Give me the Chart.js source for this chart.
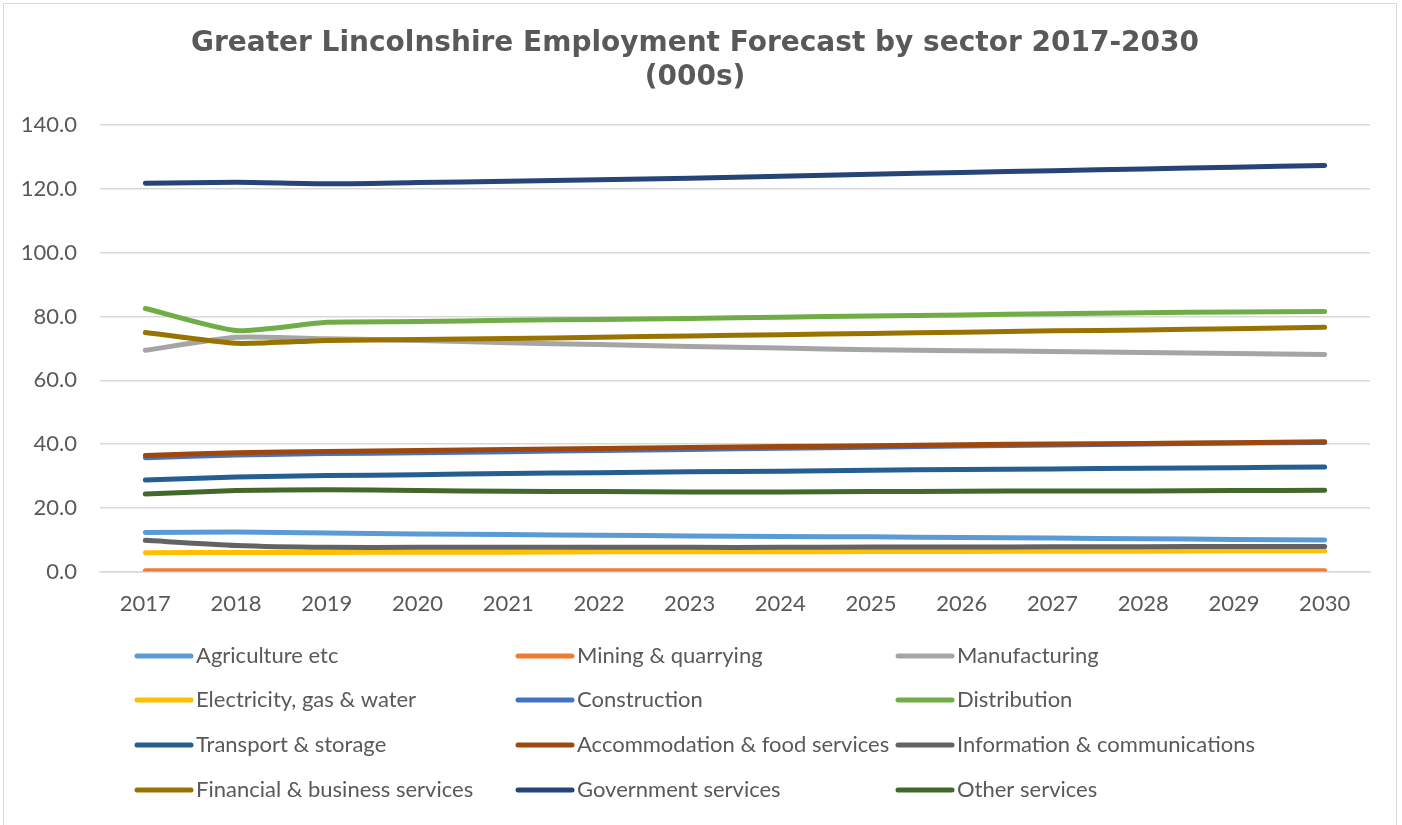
<!DOCTYPE html>
<html>
<head>
<meta charset="utf-8">
<script src="https://cdn.jsdelivr.net/npm/chart.js@4"></script>
<style>
  body { margin: 0; background: #fff; }
  #wrap { position: absolute; left: 0; top: 0; width: 1402px; height: 825px; }
  #frame { position: absolute; left: 3px; top: 3px; width: 1394px; height: 840px; border: 1.5px solid #d9d9d9; box-sizing: border-box; pointer-events: none; }
</style>
</head>
<body>
<div id="wrap">
  <canvas id="chart" width="1402" height="825"></canvas>
  <div id="frame"></div>
</div>
<script>
// years on the x axis
const years = ["2017", "2018", "2019", "2020", "2021", "2022", "2023", "2024", "2025", "2026", "2027", "2028", "2029", "2030"];

// employment (000s) per sector
const agriculture   = [12.3, 12.4, 12.1, 11.8, 11.6, 11.4, 11.2, 11.0, 10.9, 10.7, 10.5, 10.3, 10.1, 9.9];
const mining        = [0.3, 0.3, 0.3, 0.3, 0.3, 0.3, 0.3, 0.3, 0.3, 0.3, 0.3, 0.3, 0.3, 0.3];
const manufacturing = [69.4, 73.5, 73.0, 72.5, 71.8, 71.2, 70.6, 70.1, 69.6, 69.3, 69.0, 68.7, 68.4, 68.1];
const electricity   = [5.9, 6.0, 6.0, 6.1, 6.1, 6.2, 6.2, 6.2, 6.3, 6.3, 6.4, 6.4, 6.5, 6.5];
const construction  = [35.7, 36.6, 37.0, 37.3, 37.6, 38.0, 38.3, 38.7, 39.0, 39.4, 39.7, 40.0, 40.3, 40.5];
const distribution  = [82.5, 75.6, 78.2, 78.4, 78.8, 79.1, 79.4, 79.8, 80.2, 80.5, 80.9, 81.2, 81.4, 81.6];
const transport     = [28.7, 29.7, 30.1, 30.4, 30.8, 31.0, 31.3, 31.5, 31.8, 32.0, 32.2, 32.4, 32.6, 32.8];
const accommodation = [36.4, 37.3, 37.7, 38.0, 38.3, 38.6, 38.9, 39.2, 39.5, 39.8, 40.0, 40.2, 40.4, 40.7];
const infoComms     = [9.8, 8.2, 7.6, 7.6, 7.6, 7.6, 7.6, 7.6, 7.7, 7.7, 7.8, 7.8, 7.9, 7.9];
const financial     = [75.0, 71.6, 72.5, 72.8, 73.1, 73.5, 73.9, 74.3, 74.7, 75.1, 75.5, 75.8, 76.2, 76.6];
const government    = [121.8, 122.1, 121.6, 122.0, 122.4, 122.9, 123.4, 124.0, 124.6, 125.2, 125.7, 126.3, 126.8, 127.4];
const otherServices = [24.3, 25.4, 25.7, 25.4, 25.2, 25.1, 25.0, 25.0, 25.1, 25.2, 25.3, 25.3, 25.4, 25.5];

const sectorNames = [
  "Agriculture etc", "Mining & quarrying", "Manufacturing",
  "Electricity, gas & water", "Construction", "Distribution",
  "Transport & storage", "Accommodation & food services", "Information & communications",
  "Financial & business services", "Government services", "Other services"
];
const sectorValues = [agriculture, mining, manufacturing, electricity, construction, distribution,
  transport, accommodation, infoComms, financial, government, otherServices];
const sectorColors = ["#5B9BD5", "#ED7D31", "#A5A5A5", "#FFC000", "#4472C4", "#70AD47",
  "#255E91", "#9E480E", "#636363", "#997300", "#264478", "#43682B"];

const textColor = "#595959";
const fontFamily = "Lato, 'Open Sans', sans-serif";

// legend drawn as a 3-column grid like the original
const gridLegend = {
  id: "gridLegend",
  afterDraw(chart) {
    const c = chart.ctx;
    const colX = [137, 518, 898];
    const rowY = [656, 700, 745, 790];
    c.save();
    c.font = "22px " + fontFamily;
    c.textBaseline = "middle";
    c.fillStyle = textColor;
    chart.data.datasets.forEach((ds, i) => {
      const x = colX[i % 3];
      const y = rowY[Math.floor(i / 3)];
      c.strokeStyle = ds.borderColor;
      c.lineWidth = 5;
      c.lineCap = "round";
      c.beginPath();
      c.moveTo(x, y);
      c.lineTo(x + 54, y);
      c.stroke();
      c.fillText(ds.label, x + 59, y);
    });
    c.restore();
  }
};

const ctx = document.getElementById("chart").getContext("2d");

new Chart(ctx, {
  type: "line",
  data: {
    labels: years,
    datasets: sectorNames.map((name, i) => ({
      label: name,
      data: sectorValues[i],
      borderColor: sectorColors[i],
      backgroundColor: sectorColors[i],
      borderWidth: 5,
      borderCapStyle: "round",
      borderJoinStyle: "round",
      pointRadius: 0,
      tension: 0.2,
      order: -i
    }))
  },
  options: {
    responsive: false,
    animation: false,
    layout: { padding: { left: 20, right: 32, top: 27, bottom: 197 } },
    plugins: {
      legend: { display: false },
      tooltip: { enabled: false },
      title: {
        display: true,
        text: ["Greater Lincolnshire Employment Forecast by sector 2017-2030", "(000s)"],
        color: textColor,
        font: { family: "'DejaVu Sans', sans-serif", size: 28, weight: "bold", lineHeight: 1.2 },
        padding: { top: 0, bottom: 31 }
      }
    },
    scales: {
      x: {
        offset: true,
        grid: { display: false },
        border: { display: true, color: "#d9d9d9", width: 1.5 },
        ticks: { color: textColor, font: { family: fontFamily, size: 22 }, padding: 11, maxRotation: 0 }
      },
      y: {
        min: 0,
        max: 140,
        afterFit(scale) { scale.width = 80; },
        grid: { color: "#d9d9d9", lineWidth: 1.5, drawTicks: false },
        border: { display: false },
        ticks: {
          stepSize: 20,
          color: textColor,
          font: { family: fontFamily, size: 22 },
          padding: 23,
          callback: v => v.toFixed(1)
        }
      }
    }
  },
  plugins: [gridLegend]
});
</script>
</body>
</html>
